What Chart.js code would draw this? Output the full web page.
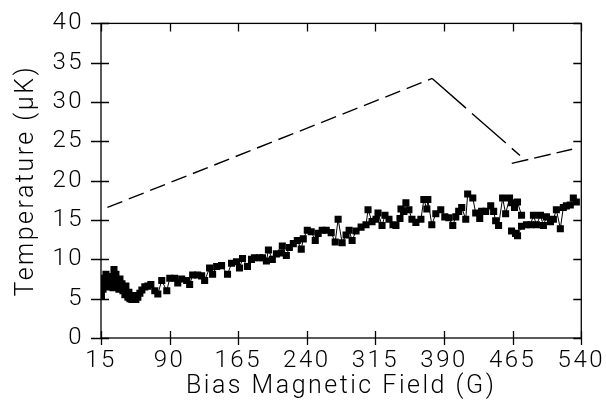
<!DOCTYPE html>
<html>
<head>
<meta charset="utf-8">
<script src="https://cdn.jsdelivr.net/npm/chart.js@4/dist/chart.umd.min.js"></script>
<style>
  html, body { margin: 0; padding: 0; background: #fff; }
  #wrap { width: 606px; height: 402px; }
</style>
</head>
<body>
<div id="wrap"><canvas id="chart" width="606" height="402"></canvas></div>
<script>
// tick labels
const xTicks = [15, 90, 165, 240, 315, 390, 465, 540];

// measured temperature, first run (G, uK)
const fieldRunA = [15.0, 15.5, 16.1, 17.2, 18.3, 19.4, 20.4, 21.5, 22.6, 23.7, 24.8, 25.9, 27.0, 28.1, 29.2, 30.2, 31.3, 32.4, 33.5, 34.6,
  35.7, 36.8, 37.9, 39.0, 40.1, 41.1, 42.2, 43.3, 44.4, 45.5, 46.6, 47.7, 48.8, 49.9, 51.0, 52.0, 53.1, 54.2, 55.3, 57.5,
  59.7, 62.9, 66.2, 69.5, 73.8, 77.1, 81.4, 86.9, 90.2, 95.6, 98.9, 103.2, 108.7, 111.9, 115.2, 120.7, 125.0, 128.3, 133.7, 137.0,
  141.4, 146.8, 153.3, 157.7, 163.1, 166.4, 169.7, 175.1, 179.5, 182.7, 188.2, 191.5, 195.8, 198.0, 202.3, 206.7, 212.2, 213.2, 217.6, 220.9,
  225.2, 229.6, 233.9, 236.1, 240.5, 244.8, 249.2, 252.4, 256.8, 261.2, 266.6, 271.0, 274.2, 278.6, 282.9, 286.2, 289.5, 293.8, 299.3, 304.7,
  306.9, 311.3, 315.6, 317.8, 322.2, 325.4, 329.8, 334.2, 337.4, 341.8, 342.9, 346.1, 348.3, 351.6, 354.9, 359.2, 364.7, 367.9, 371.2, 372.3,
  376.6, 381.0, 386.4, 390.8, 395.2, 399.5, 402.8, 406.0, 409.3, 413.7, 415.8, 421.4, 424.6, 429.0, 431.1, 435.5, 441.0, 444.2, 446.4, 449.6,
  454.0, 457.3, 461.6, 463.8, 467.0, 470.3, 474.7];
const tempRunA = [6.8, 5.4, 7.0, 6.2, 7.6, 6.6, 8.1, 7.0, 7.4, 6.5, 7.8, 6.9, 7.3, 6.4, 8.7, 7.6, 8.1, 6.8, 7.0, 6.2,
  7.5, 6.6, 6.9, 6.0, 6.4, 5.5, 6.6, 5.6, 5.2, 5.8, 5.0, 5.4, 4.9, 5.3, 5.0, 5.1, 4.9, 5.4, 5.2, 5.7,
  6.1, 6.5, 6.6, 6.8, 6.0, 5.6, 7.3, 6.0, 7.6, 7.6, 7.0, 7.5, 7.3, 6.8, 8.0, 8.0, 7.9, 7.3, 8.9, 8.1,
  9.1, 9.2, 8.1, 9.5, 9.7, 8.9, 10.1, 9.1, 10.0, 10.2, 10.2, 10.2, 9.8, 11.2, 10.0, 10.7, 10.8, 11.7, 10.5, 11.5,
  12.0, 12.4, 11.3, 12.6, 13.7, 13.5, 12.4, 13.3, 13.7, 13.7, 13.4, 12.2, 15.1, 12.1, 13.1, 13.7, 12.4, 13.6, 14.1, 14.4,
  16.3, 14.8, 15.1, 15.9, 14.3, 15.6, 15.1, 14.4, 14.3, 15.2, 16.4, 16.1, 17.2, 16.3, 15.1, 14.7, 15.1, 17.6, 16.4, 17.6,
  14.4, 15.8, 16.3, 15.4, 15.3, 14.3, 15.4, 16.1, 16.6, 15.1, 18.3, 17.8, 15.9, 15.2, 16.1, 16.1, 16.8, 16.1, 14.9, 14.3,
  17.8, 15.8, 17.8, 17.2, 16.6, 17.3, 15.6];

// measured temperature, second run
const fieldRunB = [463.8, 468.1, 470.3, 474.7, 480.1, 484.5, 487.7, 491.0, 495.4, 498.6, 501.9, 506.3, 509.5, 512.8, 517.1, 520.4, 523.7, 528.0, 531.3, 534.6];
const tempRunB = [13.6, 13.3, 13.0, 14.2, 14.4, 14.4, 15.6, 14.4, 15.6, 14.3, 15.4, 14.8, 15.1, 16.3, 13.9, 16.6, 16.8, 16.9, 17.8, 17.3];

// dashed curve pieces
const riseField = [22, 377];
const riseTemp = [16.6, 33.0];
const fallField = [377, 473];
const fallTemp = [33.0, 23.2];
const tailField = [464, 530];
const tailTemp = [22.2, 24.0];

function pairs(xs, ys) {
  return xs.map((x, i) => ({ x: x, y: ys[i] }));
}

Chart.defaults.font.family = "Roboto, 'DejaVu Sans', sans-serif";
Chart.defaults.font.weight = 300;
Chart.defaults.color = "#000";

// the printed figure uses wide, thin lettering
const spacedText = {
  id: "spacedText",
  beforeLayout(chart) { chart.ctx.letterSpacing = "2.5px"; },
  beforeDraw(chart) { chart.ctx.letterSpacing = "2.5px"; }
};

// frame + ticks crossing the axes, like the printed figure
const frameTicks = {
  id: "frameTicks",
  afterDraw(chart) {
    const ctx = chart.ctx;
    const a = chart.chartArea;
    const xs = chart.scales.x;
    const ys = chart.scales.y;
    ctx.save();
    ctx.strokeStyle = "#000";
    ctx.lineWidth = 1.3;
    ctx.strokeRect(a.left, a.top, a.right - a.left, a.bottom - a.top);
    ctx.beginPath();
    xs.ticks.forEach((t) => {
      let px = Math.round(xs.getPixelForValue(t.value)) + 0.5;
      ctx.moveTo(px, a.bottom - 7);
      ctx.lineTo(px, a.bottom + 7);
      ctx.moveTo(px, a.top);
      ctx.lineTo(px, a.top + 8);
    });
    ys.ticks.forEach((t) => {
      let py = Math.round(ys.getPixelForValue(t.value)) + 0.5;
      ctx.moveTo(a.left - 10, py);
      ctx.lineTo(a.left + 8, py);
      ctx.moveTo(a.right - 8, py);
      ctx.lineTo(a.right, py);
    });
    ctx.stroke();
    ctx.restore();
  }
};

const dataStyle = {
  showLine: true,
  borderColor: "#000",
  borderWidth: 1,
  backgroundColor: "#000",
  pointStyle: "rect",
  pointRadius: 5,
  pointBorderWidth: 0
};
const fitStyle = {
  showLine: true,
  borderColor: "#000",
  borderWidth: 1.4,
  pointRadius: 0
};

new Chart(document.getElementById("chart"), {
  type: "scatter",
  data: {
    datasets: [
      Object.assign({ data: pairs(riseField, riseTemp), borderDash: [16, 7] }, fitStyle),
      Object.assign({ data: pairs(fallField, fallTemp), borderDash: [45, 8] }, fitStyle),
      Object.assign({ data: pairs(tailField, tailTemp), borderDash: [17, 6] }, fitStyle),
      Object.assign({ data: pairs(fieldRunA, tempRunA) }, dataStyle),
      Object.assign({ data: pairs(fieldRunB, tempRunB) }, dataStyle)
    ]
  },
  options: {
    responsive: false,
    animation: false,
    layout: { padding: { top: 17, right: 23, left: 0, bottom: 0 } },
    plugins: { legend: { display: false }, tooltip: { enabled: false } },
    scales: {
      x: {
        type: "linear",
        min: 15,
        max: 540,
        afterBuildTicks: (scale) => { scale.ticks = xTicks.map((v) => ({ value: v })); },
        afterFit: (scale) => { scale.height = 64; },
        grid: { display: false },
        border: { display: false },
        ticks: { font: { size: 24 }, padding: 1, maxRotation: 0, autoSkip: false },
        title: { display: true, text: "Bias Magnetic Field (G)", font: { size: 25 }, padding: { top: 0, bottom: 0 } }
      },
      y: {
        min: 0,
        max: 40,
        afterFit: (scale) => { scale.width = 101; },
        grid: { display: false },
        border: { display: false },
        ticks: { stepSize: 5, font: { size: 24 }, padding: 9 },
        title: { display: true, text: "Temperature (μK)", font: { size: 25 }, padding: { top: 12, bottom: 0 } }
      }
    }
  },
  plugins: [spacedText, frameTicks]
});
</script>
</body>
</html>
